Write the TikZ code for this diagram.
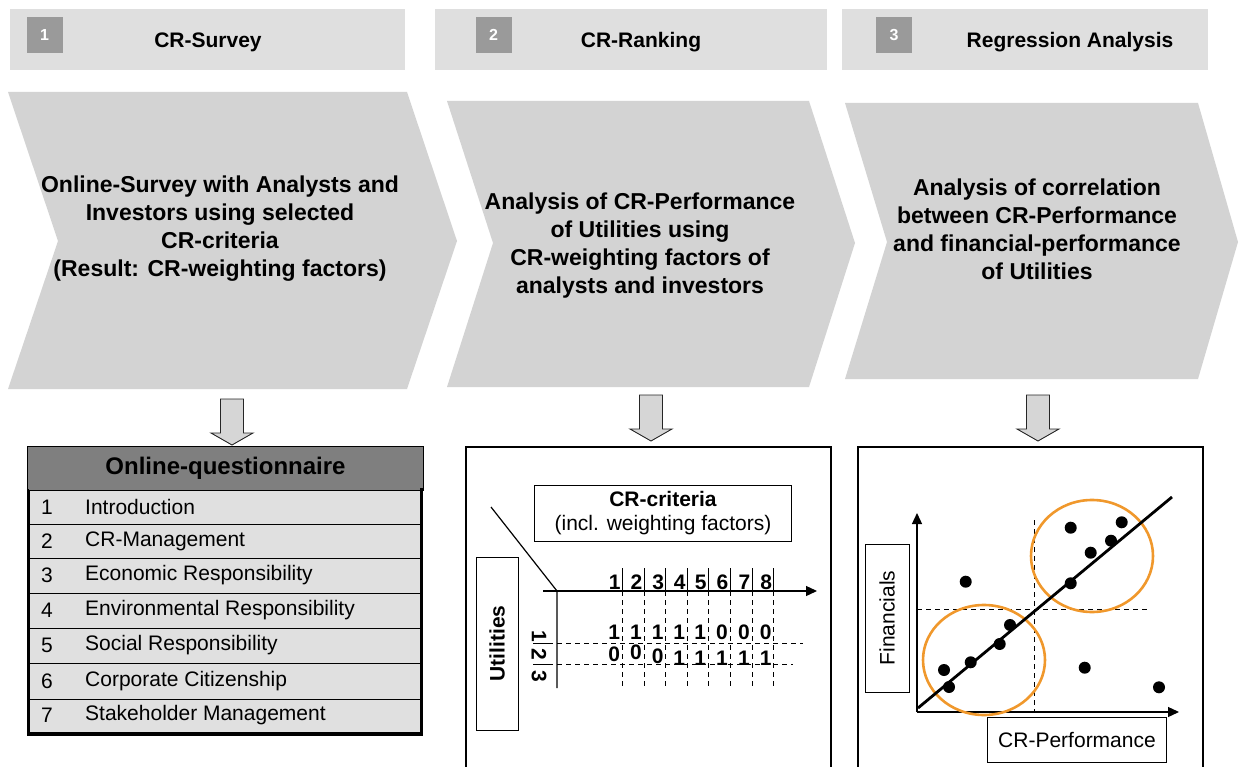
\documentclass[tikz,border=0pt]{standalone}
\usepackage{fontspec}
\setmainfont{Liberation Sans}
\usetikzlibrary{arrows.meta}

\definecolor{hdrgray}{HTML}{DFDFDF}
\definecolor{chevgray}{HTML}{D3D3D3}
\definecolor{numgray}{HTML}{9A9A9A}
\definecolor{qheadgray}{HTML}{7F7F7F}
\definecolor{qrowgray}{HTML}{E0E0E0}
\definecolor{arrowgray}{HTML}{D6D6D6}
\definecolor{ringorange}{HTML}{F0982C}

\tikzset{
  header/.style={fill=hdrgray, minimum height=61pt, inner sep=0pt, anchor=north west},
  numbox/.style={fill=numgray, text=white, minimum size=36pt, inner sep=0pt,
    font=\fontsize{16}{18}\selectfont\bfseries},
  headtext/.style={font=\fontsize{21}{24}\selectfont\bfseries},
  chevtext/.style={font=\fontsize{23}{28}\selectfont\bfseries, align=center},
  blockarrow/.style={fill=arrowgray, draw=black!85, line width=0.9pt},
  qnum/.style={font=\fontsize{21}{24}\selectfont, inner sep=0pt},
  qtext/.style={font=\fontsize{21}{24}\selectfont, anchor=west, inner sep=0pt},
  plain/.style={font=\fontsize{21}{24}\selectfont},
  digit/.style={font=\fontsize{21}{24}\selectfont\bfseries, inner sep=0pt},
  framebox/.style={draw, line width=1pt, inner sep=0pt},
  panel/.style={line width=1.2pt},
  axis/.style={line width=1.3pt, -{Triangle[length=11pt,width=10pt]}},
  gridline/.style={line width=0.9pt, dash pattern=on 5pt off 4pt},
  ring/.style={draw=ringorange, line width=2.6pt},
  dot/.style={fill=black}
}

% block arrow pointing down: centre x, top y, head start y, tip y
\newcommand{\blockdown}[4]{%
  \draw[blockarrow] ({#1-11.5},#2) -- ({#1+11.5},#2) -- ({#1+11.5},#3) -- ({#1+21},#3)
    -- (#1,#4) -- ({#1-21},#3) -- ({#1-11.5},#3) -- cycle;}

\begin{document}
\begin{tikzpicture}[x=1pt, y=-1pt]
\useasboundingbox (0,0) rectangle (1239,767);

% ---------- phase headers ----------
\node[header, minimum width=395pt] (h1) at (10,9) {};
\node[numbox] (n1) at (44.5,35) {1};
\node[headtext] (t1) at (208,42) {CR-Survey};

\node[header, minimum width=392pt] (h2) at (435,9) {};
\node[numbox] (n2) at (493.5,35) {2};
\node[headtext] (t2) at (641,42) {CR-Ranking};

\node[header, minimum width=366pt] (h3) at (842,9) {};
\node[numbox] (n3) at (894,35) {3};
\node[headtext] (t3) at (1070,42) {Regression Analysis};

% ---------- process chevrons ----------
\fill[chevgray] (8,92) -- (407,92) -- (457,241) -- (407,389) -- (8,389) -- (58,241) -- cycle;
\node[chevtext] (c1) at (220,229) {Online-Survey with Analysts and\\Investors using selected\\CR-criteria\\(Result: CR-weighting factors)};

\fill[chevgray] (447,101) -- (809,101) -- (855,243) -- (809,387) -- (447,387) -- (493,243) -- cycle;
\node[chevtext] (c2) at (640,246) {Analysis of CR-Performance\\of Utilities using\\CR-weighting factors of\\analysts and investors};

\fill[chevgray] (845,103) -- (1198,103) -- (1238,242) -- (1198,379) -- (845,379) -- (887,242) -- cycle;
\node[chevtext] (c3) at (1037,229) {Analysis of correlation\\between CR-Performance\\and financial-performance\\of Utilities};

% ---------- down arrows ----------
\blockdown{232}{399}{433}{445}
\blockdown{651}{395}{429}{441}
\blockdown{1038}{395}{429}{441}

% ---------- online questionnaire ----------
\node[fill=qheadgray, draw=black, line width=1pt, minimum width=396pt, minimum height=44pt,
  anchor=north west, inner sep=0pt, font=\fontsize{24}{28}\selectfont\bfseries]
  (qh) at (27,446) {Online-questionnaire};
\foreach \a/\b/\n/\t in {490/524/1/Introduction, 524/558/2/CR-Management,
    558/593/3/Economic Responsibility, 593/628/4/Environmental Responsibility,
    628/663/5/Social Responsibility, 663/699/6/Corporate Citizenship,
    699/732/7/Stakeholder Management} {
  \draw[fill=qrowgray, line width=1pt] (29,\a) rectangle (420,\b);
  \node[qnum] (qn\n) at (47,{(\a+\b)/2}) {\n};
  \node[qtext] (qt\n) at (85,{(\a+\b)/2}) {\t};
}
\draw[line width=2pt] (28,489) -- (28,734);
\draw[line width=3.5pt] (421.5,488) -- (421.5,734.5) -- (27,734.5);

% ---------- ranking matrix ----------
\draw[panel] (466,770) -- (466,447) -- (831,447) -- (831,770);
\node[framebox, minimum width=257pt, minimum height=56pt, anchor=north west, align=center,
  font=\fontsize{21}{24}\selectfont] (crit) at (534,485)
  {{\bfseries CR-criteria}\\(incl. weighting factors)};
\node[framebox, rotate=90, minimum width=173pt, minimum height=42pt,
  font=\fontsize{21}{24}\selectfont\bfseries] (util) at (497,643.5) {Utilities};

\coordinate (diag) at (491,507);
\coordinate (orig) at (557,591);
\coordinate (xstart) at (543,591);
\coordinate (xend) at (817,591);
\coordinate (yend) at (557,688);
\draw[line width=1.2pt] (diag) -- (orig) -- (yend);
\draw[axis] (xstart) -- (xend);

\foreach \s [count=\i] in {622.3,644,665.7,687.3,708.3,730,752,773.7} {
  \draw[line width=1pt] (\s,568) -- (\s,591);
  \draw[gridline] (\s,591) -- (\s,688);
  \node[digit, anchor=east] (col\i) at ({\s-1.5},582) {\i};
}
\foreach \s/\v [count=\i] in {622.3/1,644/1,665.7/1,687.3/1,708.3/1,730/0,752/0,773.7/0} {
  \node[digit, anchor=east] (ra\i) at ({\s-2},632) {\v};
}
\foreach \s/\v/\yy [count=\i] in {622.3/0/654,644/0/652,665.7/0/656,687.3/1/658,
    708.3/1/658,730/1/658,752/1/658,773.7/1/658} {
  \node[digit, anchor=east] (rb\i) at ({\s-2},\yy) {\v};
}
\draw[line width=1pt] (533,643) -- (548,643);
\draw[gridline] (548,643) -- (803,643);
\draw[line width=1pt] (533,664) -- (548,664);
\draw[gridline] (548,664) -- (793,664);
\node[digit, rotate=-90] (u1) at (539,636) {1};
\node[digit, rotate=-90] (u2) at (539,654) {2};
\node[digit, rotate=-90] (u3) at (539,676) {3};

% ---------- regression plot ----------
\draw[panel] (858,770) -- (858,447) -- (1203,447) -- (1203,770);
\node[framebox, rotate=90, minimum width=148pt, minimum height=44pt,
  font=\fontsize{21}{24}\selectfont] (fin) at (887,618) {Financials};
\node[framebox, minimum width=179pt, minimum height=45pt, anchor=north west,
  font=\fontsize{21}{24}\selectfont] (crp) at (987,717) {CR-Performance};

\coordinate (o2) at (917,712);
\coordinate (ytop) at (917,513);
\coordinate (xright) at (1179,712);
\draw[axis] (o2) -- (ytop);
\draw[axis] (o2) -- (xright);
\draw[gridline] (1034,520) -- (1034,712);
\draw[gridline] (917,609) -- (1150,609);

\draw[ring] (984,660) ellipse [x radius=61, y radius=55];
\draw[ring] (1092,556) ellipse [x radius=61, y radius=56];
\draw[line width=2.8pt] (918,708) -- (1172,497);

\foreach \px/\py in {944/670, 949/687, 970.7/662.3, 999.7/644, 1010/625, 965.7/581.7,
    1070.7/527.7, 1090.7/552.7, 1111/540.7, 1121.7/522.3, 1070.7/583.3,
    1084.7/667.7, 1159/687.3} {
  \fill[dot] (\px,\py) circle [radius=6];
}
\end{tikzpicture}
\end{document}
